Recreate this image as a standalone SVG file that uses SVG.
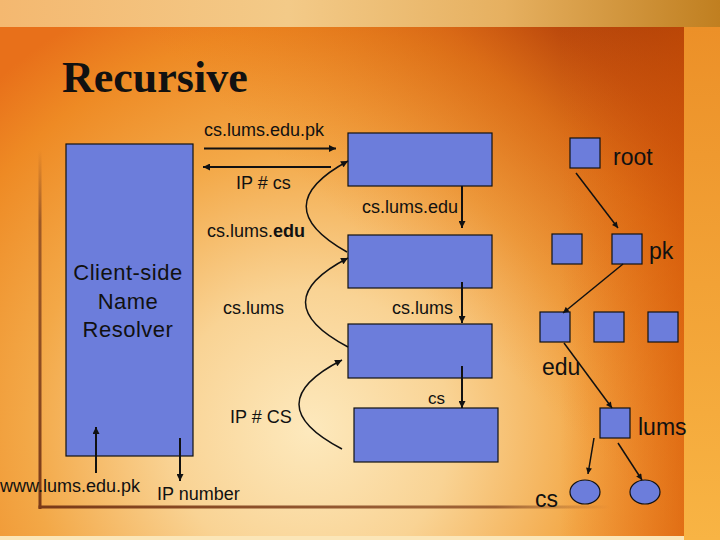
<svg xmlns="http://www.w3.org/2000/svg" width="720" height="540" viewBox="0 0 720 540">
<defs>
<radialGradient id="bgMain" cx="310" cy="430" r="470" gradientUnits="userSpaceOnUse">
<stop offset="0" stop-color="#fde9bd"/>
<stop offset="0.3" stop-color="#f9d394"/>
<stop offset="0.6" stop-color="#f3a847"/>
<stop offset="0.85" stop-color="#ee8a24"/>
<stop offset="1" stop-color="#e8701a"/>
</radialGradient>
<linearGradient id="darkTR" x1="690" y1="20" x2="430" y2="300" gradientUnits="userSpaceOnUse">
<stop offset="0" stop-color="#7a1800" stop-opacity="0.85"/>
<stop offset="0.45" stop-color="#c24a08" stop-opacity="0.45"/>
<stop offset="1" stop-color="#e87010" stop-opacity="0"/>
</linearGradient>
<linearGradient id="rightEdge" x1="560" y1="0" x2="684" y2="0" gradientUnits="userSpaceOnUse">
<stop offset="0" stop-color="#e86a10" stop-opacity="0"/>
<stop offset="1" stop-color="#d85a08" stop-opacity="0.6"/>
</linearGradient>
<linearGradient id="topBand" x1="0" y1="0" x2="720" y2="0" gradientUnits="userSpaceOnUse">
<stop offset="0" stop-color="#f4b870"/>
<stop offset="0.4" stop-color="#f3ca88"/>
<stop offset="0.7" stop-color="#e6b060"/>
<stop offset="1" stop-color="#c07f20"/>
</linearGradient>
<linearGradient id="rightStrip" x1="0" y1="27" x2="0" y2="540" gradientUnits="userSpaceOnUse">
<stop offset="0" stop-color="#ec9028"/>
<stop offset="1" stop-color="#f8b444"/>
</linearGradient>
<linearGradient id="frameH" x1="40" y1="0" x2="610" y2="0" gradientUnits="userSpaceOnUse">
<stop offset="0" stop-color="#7a3a18"/>
<stop offset="0.8" stop-color="#8a4a22" stop-opacity="0.8"/>
<stop offset="1" stop-color="#8a4a22" stop-opacity="0"/>
</linearGradient>
<linearGradient id="frameV" x1="0" y1="150" x2="0" y2="508" gradientUnits="userSpaceOnUse">
<stop offset="0" stop-color="#8a4a22" stop-opacity="0"/>
<stop offset="0.2" stop-color="#8a4a22" stop-opacity="0.8"/>
<stop offset="1" stop-color="#7a3a18"/>
</linearGradient>
<marker id="ah" viewBox="0 0 10 10" refX="10" refY="5" markerWidth="8" markerHeight="7" markerUnits="userSpaceOnUse" orient="auto">
<path d="M0,0 L10,5 L0,10 z" fill="#111"/>
</marker>
<marker id="ahs" viewBox="0 0 10 10" refX="10" refY="5" markerWidth="7" markerHeight="6" markerUnits="userSpaceOnUse" orient="auto">
<path d="M0,0 L10,5 L0,10 z" fill="#111"/>
</marker>
</defs>
<style>
.box{fill:#6c7ddb;stroke:#111;stroke-width:1.2}
.t{font-family:"Liberation Sans",Arial,sans-serif;fill:#111}
.s18{font-size:18px}
.s23{font-size:23px}
.cn{stroke:#111;fill:none}
.w2{stroke-width:2}
.w15{stroke-width:1.5}
</style>

<!-- background -->
<rect x="0" y="0" width="720" height="540" fill="url(#bgMain)"/>
<rect x="0" y="27" width="684" height="513" fill="url(#darkTR)"/>
<rect x="0" y="27" width="684" height="513" fill="url(#rightEdge)"/>
<rect x="0" y="0" width="720" height="27" fill="url(#topBand)"/>
<rect x="684" y="27" width="36" height="513" fill="url(#rightStrip)"/>
<rect x="0" y="536" width="684" height="4" fill="#fbe6b8"/>
<rect x="38.5" y="150" width="3" height="359" fill="url(#frameV)"/>
<rect x="38.5" y="505.5" width="580" height="3" fill="url(#frameH)"/>

<text class="t" x="62" y="92" style="font-family:'Liberation Serif','Times New Roman',serif;font-weight:bold;font-size:44px">Recursive</text>

<g id="client">
<rect class="box" x="66" y="144" width="127" height="312"/>
<text class="t" x="128" y="280" text-anchor="middle" style="font-size:22px;letter-spacing:0.5px">Client-side</text>
<text class="t" x="128" y="309" text-anchor="middle" style="font-size:22px;letter-spacing:0.5px">Name</text>
<text class="t" x="128" y="337" text-anchor="middle" style="font-size:22px;letter-spacing:0.5px">Resolver</text>
</g>

<g id="server1"><rect class="box" x="348" y="133" width="144" height="53"/></g>
<g id="server2"><rect class="box" x="348" y="235" width="144" height="53"/></g>
<g id="server3"><rect class="box" x="348" y="324" width="144" height="54"/></g>
<g id="server4"><rect class="box" x="354" y="408" width="144" height="54"/></g>

<g id="tree-root"><rect class="box" x="570" y="138" width="30" height="30"/><text class="t s23" x="613" y="165">root</text></g>
<g id="tree-pk-sib"><rect class="box" x="552" y="234" width="30" height="30"/></g>
<g id="tree-pk"><rect class="box" x="612" y="234" width="30" height="30"/><text class="t s23" x="649" y="259">pk</text></g>
<g id="tree-edu"><rect class="box" x="540" y="312" width="30" height="30"/><text class="t s23" x="542" y="375">edu</text></g>
<g id="tree-edu-sib1"><rect class="box" x="594" y="312" width="30" height="30"/></g>
<g id="tree-edu-sib2"><rect class="box" x="648" y="312" width="30" height="30"/></g>
<g id="tree-lums"><rect class="box" x="600" y="408" width="30" height="30"/><text class="t s23" x="638" y="435">lums</text></g>
<g id="tree-cs"><ellipse class="box" cx="585" cy="492" rx="15" ry="12"/><text class="t s23" x="535" y="507">cs</text></g>
<g id="tree-leaf"><ellipse class="box" cx="645" cy="492" rx="15" ry="12"/></g>

<g id="connectors">
<line class="cn w2" x1="204" y1="148.5" x2="336" y2="148.5" marker-end="url(#ah)"/>
<line class="cn w2" x1="331" y1="167" x2="203" y2="167" marker-end="url(#ah)"/>
<line class="cn w2" x1="462" y1="186" x2="462" y2="228" marker-end="url(#ah)"/>
<line class="cn w2" x1="462" y1="282" x2="462" y2="323" marker-end="url(#ah)"/>
<line class="cn w2" x1="462" y1="366" x2="462" y2="408" marker-end="url(#ah)"/>
<path class="cn w15" d="M347,252 Q265,206 348,161" marker-end="url(#ah)"/>
<path class="cn w15" d="M348,347 Q263,302 348,258" marker-end="url(#ah)"/>
<path class="cn w15" d="M342,449 Q256,404 342,360" marker-end="url(#ah)"/>
<line class="cn w2" x1="96" y1="473" x2="96" y2="427" marker-end="url(#ah)"/>
<line class="cn w2" x1="180" y1="438" x2="180" y2="481" marker-end="url(#ah)"/>
<line class="cn w15" x1="576" y1="173" x2="618" y2="228" marker-end="url(#ahs)"/>
<line class="cn w15" x1="623" y1="264" x2="563" y2="313" marker-end="url(#ahs)"/>
<line class="cn w15" x1="564" y1="343" x2="612" y2="408" marker-end="url(#ahs)"/>
<line class="cn w15" x1="594" y1="438" x2="588" y2="474" marker-end="url(#ahs)"/>
<line class="cn w15" x1="618" y1="443" x2="642" y2="480" marker-end="url(#ahs)"/>
</g>

<g id="labels">
<text class="t s18" x="204" y="136">cs.lums.edu.pk</text>
<text class="t s18" x="236" y="189">IP # cs</text>
<text class="t s18" x="362" y="213">cs.lums.edu</text>
<text class="t s18" x="207" y="237">cs.lums.<tspan font-weight="bold">edu</tspan></text>
<text class="t s18" x="223" y="314">cs.lums</text>
<text class="t s18" x="392" y="314">cs.lums</text>
<text class="t s18" x="230" y="423">IP # CS</text>
<text class="t" x="428" y="404" style="font-size:17px">cs</text>
<text class="t s18" x="0" y="492">www.lums.edu.pk</text>
<text class="t s18" x="157" y="500">IP number</text>
</g>
</svg>
